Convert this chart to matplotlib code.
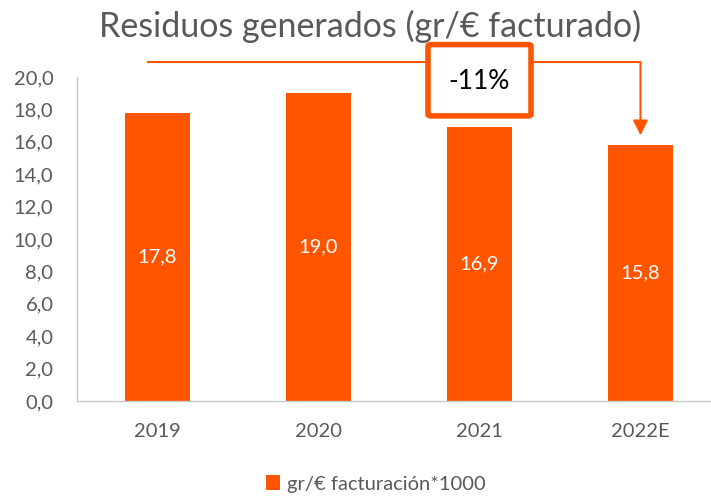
import matplotlib
matplotlib.use("Agg")
import matplotlib.pyplot as plt
from matplotlib.patches import FancyBboxPatch

# --- DATA ---
years = ["2019", "2020", "2021", "2022E"]
values = [17.8, 19.0, 16.9, 15.8]
yticks = [0, 2, 4, 6, 8, 10, 12, 14, 16, 18, 20]
series_name = "gr/€ facturación*1000"
title = "Residuos generados (gr/€ facturado)"

ORANGE = "#FF5500"
GREY = "#595959"
FS = 14.5
plt.rcParams["font.family"] = ["Lato", "DejaVu Sans"]

fig = plt.figure(figsize=(7.11, 4.98), dpi=100)
W, H = 711, 498
# plot area runs a bit past the right edge, as in the reference
ax = fig.add_axes([77 / W, 1 - 401 / H, 644 / W, 324 / H])

x = list(range(len(years)))
bars = ax.bar(x, values, width=0.4, color=ORANGE, label=series_name, zorder=2)
for xi, v in zip(x, values):
    ax.text(xi, v / 2, f"{v:.1f}".replace(".", ","), ha="center", va="center",
            color="white", fontsize=FS)

ax.set_xlim(-0.5, len(years) - 0.5)
ax.set_ylim(0, 20)
ax.set_yticks(yticks)
ax.set_yticklabels([f"{t:.1f}".replace(".", ",") for t in yticks])
ax.set_xticks(x)
ax.set_xticklabels(years)
ax.tick_params(axis="both", length=0, labelsize=FS, labelcolor=GREY)
ax.tick_params(axis="y", pad=17)
ax.tick_params(axis="x", pad=16)
for s in ["top", "right"]:
    ax.spines[s].set_visible(False)
for s in ["left", "bottom"]:
    ax.spines[s].set_color("#C8C8C8")
    ax.spines[s].set_linewidth(1.0)

# change annotation: first year vs last year
change = (values[-1] - values[0]) / values[0] * 100
line_y = 20.93
ax.plot([-0.06, x[-1]], [line_y, line_y], color=ORANGE, lw=1.5, clip_on=False, zorder=3)
ax.annotate("", xy=(x[-1], values[-1] + 0.6), xytext=(x[-1], line_y),
            arrowprops=dict(arrowstyle="-|>,head_length=0.9,head_width=0.45",
                            color=ORANGE, lw=1.5, shrinkA=0, shrinkB=0),
            annotation_clip=False, zorder=3)
box_cx, box_cy = x[-2], 19.8
bw, bh = 0.64, 4.4
box = FancyBboxPatch((box_cx - bw / 2, box_cy - bh / 2), bw, bh,
                     boxstyle="round,pad=0,rounding_size=0.02",
                     facecolor="white", edgecolor=ORANGE, lw=4,
                     clip_on=False, zorder=4, mutation_aspect=5)
ax.add_patch(box)
ax.text(box_cx, box_cy - 0.1, f"{change:.0f}%", ha="center", va="center",
        fontsize=19, color="black", zorder=5)

fig.text(370 / W, 1 - 26 / H, title, ha="center", va="center",
         fontsize=24.5, color=GREY)

leg = fig.legend(handles=[bars], labels=[series_name], loc="center",
                 bbox_to_anchor=(376 / W, 1 - 484 / H), frameon=False,
                 fontsize=FS, handlelength=0.7, handleheight=0.7,
                 handletextpad=0.35)
for t in leg.get_texts():
    t.set_color(GREY)

fig.savefig("out.png", dpi=100)
